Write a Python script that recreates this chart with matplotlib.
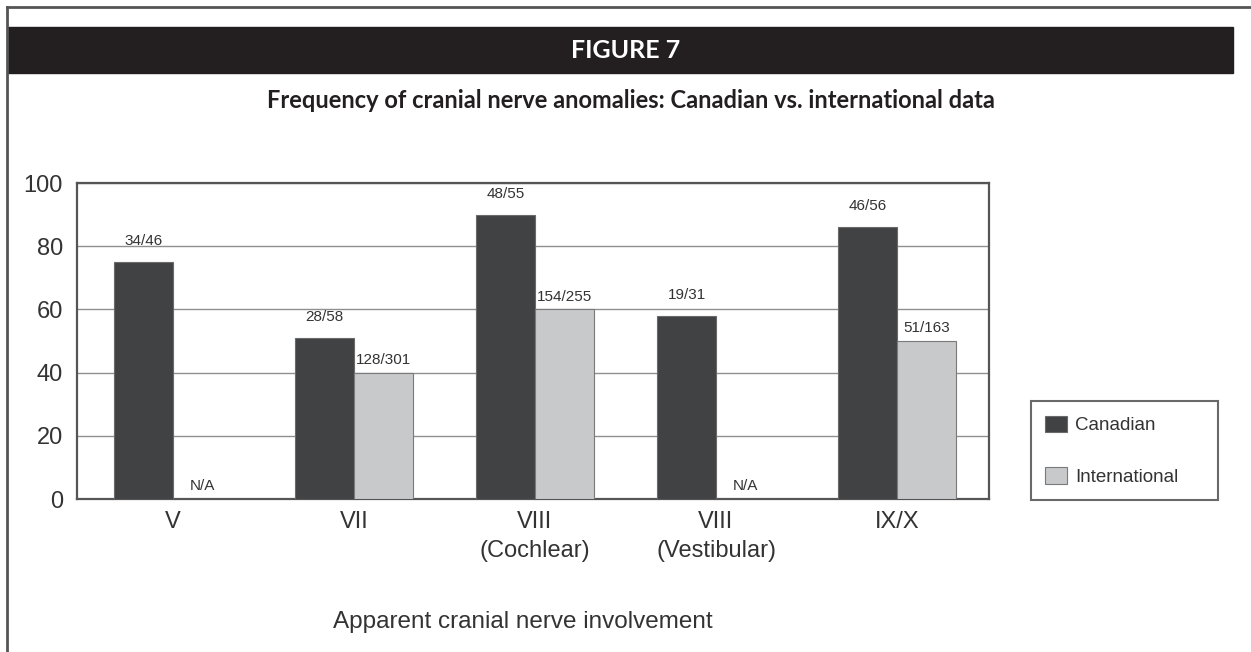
import numpy as np
import matplotlib
matplotlib.use("Agg")
import matplotlib.pyplot as plt
from matplotlib.patches import Rectangle
from matplotlib.lines import Line2D

nerves = ["V", "VII", "VIII\n(Cochlear)", "VIII\n(Vestibular)", "IX/X"]
canadian = [75, 51, 90, 58, 86]
international = [0, 40, 60, 0, 50]
can_labels = ["34/46", "28/58", "48/55", "19/31", "46/56"]
int_labels = ["N/A", "128/301", "154/255", "N/A", "51/163"]
yticks = [0, 20, 40, 60, 80, 100]

W, H = 1251, 652
fig = plt.figure(figsize=(W / 100, H / 100), dpi=100)
plt.rcParams['font.family'] = ['Liberation Sans', 'DejaVu Sans']

def fx(px):
    return px / W

def fy(py):
    return 1 - py / H

# frame lines and black banner
fig.add_artist(Line2D([fx(7), 1], [fy(7), fy(7)], color="#555555", lw=2))
fig.add_artist(Line2D([fx(7), fx(7)], [fy(7), 0], color="#555555", lw=2))
fig.add_artist(Rectangle((fx(8), fy(73)), fx(1233) - fx(8), fy(27) - fy(73),
                         transform=fig.transFigure, color="#231f20"))
fig.text(fx(626), fy(50), "FIGURE 7", color="white", fontsize=18,
         fontweight="bold", family="Lato", ha="center", va="center")
fig.text(fx(631), fy(100), "Frequency of cranial nerve anomalies: Canadian vs. international data",
         color="#231f20", fontsize=17, fontweight="bold", family="Lato",
         ha="center", va="center")

ax = fig.add_axes([fx(77), fy(499), fx(989) - fx(77), fy(183) - fy(499)])
x = np.arange(len(nerves))
w = 0.326
b1 = ax.bar(x - w / 2, canadian, w, color="#414244", edgecolor="#6a6a6a", lw=0.8,
            label="Canadian", zorder=3)
b2 = ax.bar(x + w / 2, international, w, color="#c8c9cb", edgecolor="#7a7a7a", lw=0.8,
            label="International", zorder=3)

for i in range(len(nerves)):
    ax.annotate(can_labels[i], (x[i] - w / 2, canadian[i]), xytext=(0, 10),
                textcoords="offset points", ha="center", va="bottom",
                fontsize=11, color="#333333")
    ax.annotate(int_labels[i], (x[i] + w / 2, international[i]), xytext=(0, 4),
                textcoords="offset points", ha="center", va="bottom",
                fontsize=11, color="#333333")

ax.set_xlim(-0.530, 4.508)
ax.set_ylim(0, 100)
ax.set_yticks(yticks)
ax.yaxis.grid(True, color="#8f8f8f", lw=1)
ax.set_axisbelow(True)
ax.set_xticks(x)
ax.set_xticklabels(nerves, fontsize=17, color="#333333", linespacing=1.4)
ax.tick_params(axis="both", length=0)
ax.tick_params(axis="x", pad=9)
ax.tick_params(axis="y", pad=10, labelsize=17, labelcolor="#333333")
for s in ax.spines.values():
    s.set_color("#555555")
    s.set_linewidth(1.6)

fig.text(fx(523), fy(622), "Apparent cranial nerve involvement", fontsize=17.5,
         color="#333333", ha="center", va="center")

leg = fig.legend(handles=[b1, b2], loc="lower left",
                 bbox_to_anchor=(fx(1031), fy(500), fx(1218) - fx(1031), fy(399) - fy(500)),
                 mode="expand", fontsize=13.5, frameon=True, fancybox=False,
                 edgecolor="#444444", borderpad=0.75, labelspacing=1.75,
                 handlelength=1.17, handleheight=1.0, handletextpad=0.45,
                 borderaxespad=0)
leg.get_frame().set_linewidth(1.5)
for t in leg.get_texts():
    t.set_color("#333333")

fig.savefig("out.png", dpi=100)
